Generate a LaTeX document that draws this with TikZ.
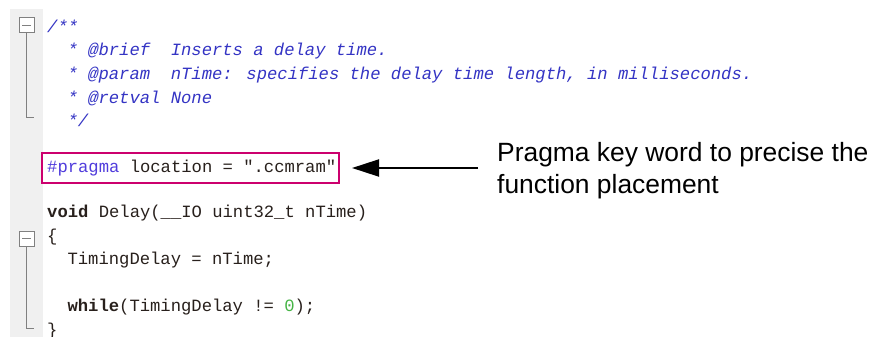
\documentclass[tikz,border=0pt]{standalone}
\usepackage{fontspec}
\setmainfont{Liberation Sans}
\newfontfamily\codefont{Liberation Mono}
\usetikzlibrary{arrows.meta}
\definecolor{cmt}{RGB}{52,52,196}
\definecolor{pp}{RGB}{80,60,220}
\definecolor{code}{RGB}{40,32,28}
\definecolor{num}{RGB}{70,180,70}
\definecolor{gut}{RGB}{240,240,240}
\definecolor{fold}{RGB}{128,128,128}
\definecolor{boxc}{RGB}{204,0,110}
\tikzset{
  codeline/.style={anchor=base west, inner sep=0pt, font=\codefont\fontsize{17.2}{20}\selectfont, text=code},
  cmtline/.style={codeline, text=cmt, font=\codefont\itshape\fontsize{17.2}{20}\selectfont},
  foldbox/.style={draw=fold, fill=white, line width=1pt},
  foldline/.style={draw=fold, line width=1pt},
  note/.style={anchor=base west, inner sep=0pt, font=\fontsize{26.4}{32}\selectfont, align=left},
}
\begin{document}
\begin{tikzpicture}[x=1pt,y=-1pt]
\useasboundingbox (0,0) rectangle (878,337);
\fill[white] (0,0) rectangle (878,337);
% gutter
\fill[gut] (10,9) rectangle (43,337);
% fold markers
\draw[foldline] (26.5,33) -- (26.5,117) -- (34,117);
\draw[foldbox] (19,18) rectangle (34,33);
\draw[fold, line width=1pt] (22,25.5) -- (31,25.5);
\draw[foldline] (26.5,246) -- (26.5,328) -- (34,328);
\draw[foldbox] (19,231) rectangle (34,246);
\draw[fold, line width=1pt] (22,238.5) -- (31,238.5);
% comment
\node[cmtline] (c1) at (47,33) {/**};
\node[cmtline] (c2) at (67.4,56) {* @brief~~Inserts a delay time.};
\node[cmtline] (c3) at (67.4,79) {* @param~~nTime: specifies the delay time length, in milliseconds.};
\node[cmtline] (c4) at (67.4,103) {* @retval None};
\node[cmtline] (c5) at (67.4,126) {*/};
% pragma
\node[codeline] (pr) at (47,172) {\textcolor{pp}{\#pragma} location = ".ccmram"};
\draw[boxc, line width=1.6pt] (42,153) rectangle (339,183);
\coordinate (boxr) at (352,168);
% function
\node[codeline] (f1) at (47,217) {\bfseries void\mdseries{} Delay(\_\_IO uint32\_t nTime)};
\node[codeline] (f2) at (47,241) {\{};
\node[codeline] (f3) at (67.4,264) {TimingDelay = nTime;};
\node[codeline] (f4) at (67.4,311) {\bfseries while\mdseries(TimingDelay != \textcolor{num}{0});};
\node[codeline] (f5) at (47,335) {\}};
% note
\node[note] (n1) at (497,161) {Pragma key word to precise the};
\node[note] (n2) at (497,193) {function placement};
\coordinate (arrs) at (478,168);
\draw[line width=2pt, -{Triangle[length=27pt,width=17pt]}] (arrs) -- (boxr);
\end{tikzpicture}
\end{document}
